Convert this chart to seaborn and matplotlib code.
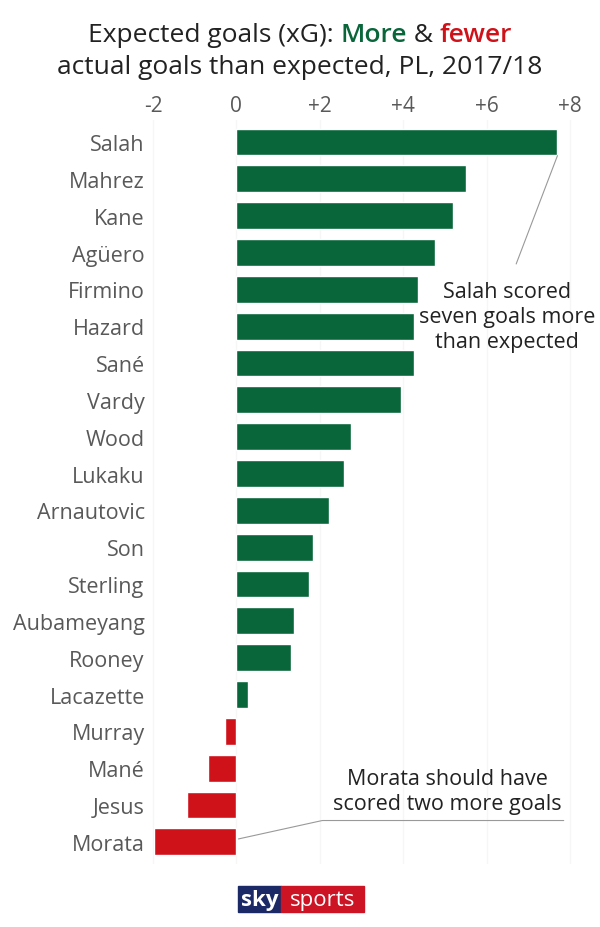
import matplotlib
matplotlib.use("Agg")
import numpy as np
import pandas as pd
import matplotlib.pyplot as plt
import seaborn as sns
from matplotlib.patches import Rectangle

# ---------------- Data ----------------
players = ["Salah", "Mahrez", "Kane", "Agüero", "Firmino", "Hazard", "Sané",
           "Vardy", "Wood", "Lukaku", "Arnautovic", "Son", "Sterling",
           "Aubameyang", "Rooney", "Lacazette", "Murray", "Mané", "Jesus", "Morata"]
xg_diff = [7.70, 5.50, 5.20, 4.77, 4.36, 4.26, 4.25, 3.94, 2.74, 2.58,
           2.22, 1.83, 1.75, 1.38, 1.30, 0.29, -0.28, -0.68, -1.19, -1.98]
tick_values = [-2, 0, 2, 4, 6, 8]
tick_labels = ["-2", "0", "+2", "+4", "+6", "+8"]

GREEN = "#08663a"
RED = "#cf1119"
GREY = "#595959"
DARK = "#222222"

df = pd.DataFrame({"player": players, "diff": xg_diff})
df["sign"] = np.where(df["diff"] >= 0, "more", "fewer")

# ---------------- Style ----------------
sns.set_style("white")
plt.rcParams["font.family"] = ["Open Sans", "DejaVu Sans"]

W, H = 600, 928
fig = plt.figure(figsize=(W / 100, H / 100), dpi=100)
ax = fig.add_axes([0.248, 0.0679, 0.7228, 0.8018])

sns.barplot(data=df, x="diff", y="player", hue="sign",
            palette={"more": GREEN, "fewer": RED}, dodge=False,
            width=0.73, saturation=1, legend=False, ax=ax)

ax.set_xlim(-2.1, 8.3)
ax.set_ylim(19.6, -0.6)
ax.xaxis.tick_top()
ax.set_xticks(tick_values, tick_labels)
ax.tick_params(axis="x", length=0, pad=3, labelsize=15, colors=GREY)
ax.tick_params(axis="y", length=0, pad=3, labelsize=15.5, colors=GREY)
ax.set_xlabel("")
ax.set_ylabel("")
for s in ax.spines.values():
    s.set_visible(False)
ax.grid(axis="x", color="#f6f6f6", lw=1)
ax.set_axisbelow(True)

# ---------------- Annotations ----------------
ax.plot([xg_diff[0], 6.71], [0.37, 3.31], color="#999999", lw=0.8, clip_on=False)
fig.text(507 / W, 1 - 318 / H, "Salah scored\nseven goals more\nthan expected",
         ha="center", va="center", fontsize=15.5, color=DARK, linespacing=1.25)

ax.plot([0.05, 2.06, 7.85], [18.92, 18.42, 18.42], color="#999999", lw=0.8, clip_on=False)
fig.text(447 / W, 1 - 792 / H, "Morata should have\nscored two more goals",
         ha="center", va="center", fontsize=15.5, color=DARK, linespacing=1.25)

# ---------------- Title ----------------
r = fig.canvas.get_renderer()
parts = [("Expected goals (xG): ", DARK, "normal"), ("More", GREEN, "semibold"),
         (" & ", DARK, "normal"), ("fewer", RED, "semibold")]
texts = []
for txt, col, wt in parts:
    t = fig.text(0, 1 - 35 / H, txt, ha="left", va="center", fontsize=19,
                 color=col, fontweight=wt)
    texts.append(t)
widths = [t.get_window_extent(r).width for t in texts]
x = (W - sum(widths)) / 2
for t, w in zip(texts, widths):
    t.set_x(x / W)
    x += w
fig.text(0.5, 1 - 68 / H, "actual goals than expected, PL, 2017/18",
         ha="center", va="center", fontsize=19, color=DARK)

# ---------------- Logo ----------------
fig.patches.append(Rectangle((238 / W, 1 - 913 / H), 43 / W, 26 / H,
                             transform=fig.transFigure, color="#1b2a66"))
fig.patches.append(Rectangle((281 / W, 1 - 913 / H), 83 / W, 26 / H,
                             transform=fig.transFigure, color="#cc1424"))
fig.text(259.5 / W, 1 - 901 / H, "sky", ha="center", va="center", fontsize=16,
         fontweight="bold", color="white")
fig.text(322.5 / W, 1 - 901 / H, "sports", ha="center", va="center", fontsize=16,
         color="white")

fig.savefig("out.png", dpi=100)
